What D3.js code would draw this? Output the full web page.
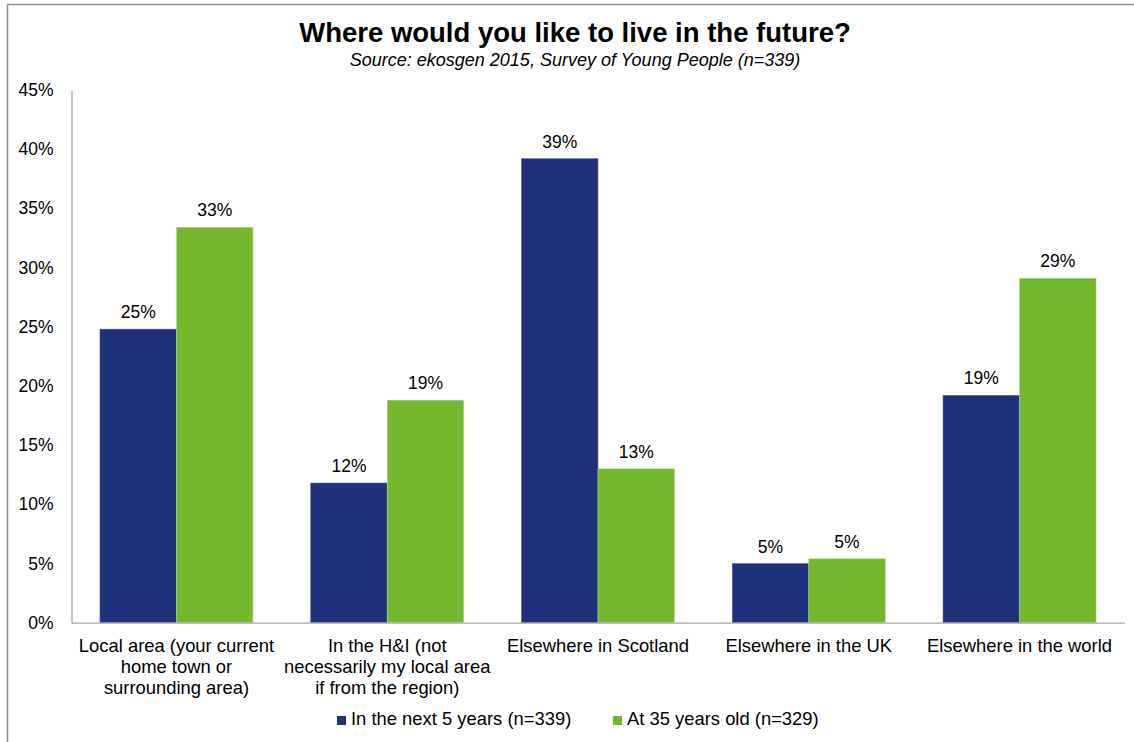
<!DOCTYPE html>
<html>
<head>
<meta charset="utf-8">
<script src="https://cdn.jsdelivr.net/npm/d3@7"></script>
<style>
  html, body { margin: 0; padding: 0; background: #fff; }
  svg { display: block; font-family: "Liberation Sans", Arial, sans-serif; }
</style>
</head>
<body>
<svg id="chart" width="1134" height="742"></svg>
<script>
// Survey responses: share of young people choosing each location
const categories = [
  ["Local area (your current", "home town or", "surrounding area)"],
  ["In the H&I (not", "necessarily my local area", "if from the region)"],
  ["Elsewhere in Scotland"],
  ["Elsewhere in the UK"],
  ["Elsewhere in the world"]
];
const seriesNames = ["In the next 5 years (n=339)", "At 35 years old (n=329)"];
const next5Years = [0.248, 0.118, 0.392, 0.050, 0.192];
const at35 = [0.334, 0.188, 0.130, 0.054, 0.291];
const yTicks = [0, 0.05, 0.10, 0.15, 0.20, 0.25, 0.30, 0.35, 0.40, 0.45];
const colors = ["#1F317A", "#74B82E"];

const svg = d3.select("#chart");
const plotLeft = 71.5, plotRight = 1124.5, plotTop = 90, plotBottom = 622.7;

const catKeys = categories.map((c, i) => i);
const x = d3.scaleBand().domain(catKeys).range([plotLeft, plotRight])
  .paddingInner(0.274).paddingOuter(0.135);
const xs = d3.scaleBand().domain([0, 1]).range([0, x.bandwidth()]);
const y = d3.scaleLinear().domain([0, 0.45]).range([plotBottom, plotTop]);
const pct = d3.format(".0%");

// Frame lines (top and left edges)
svg.append("line").attr("x1", 7.5).attr("x2", 1134).attr("y1", 4.5).attr("y2", 4.5)
  .attr("stroke", "#8c8c8c").attr("stroke-width", 1.5);
svg.append("line").attr("x1", 7.5).attr("x2", 7.5).attr("y1", 4.5).attr("y2", 742)
  .attr("stroke", "#8c8c8c").attr("stroke-width", 1.5);

// Title and source line
svg.append("text").attr("x", 575).attr("y", 42).attr("text-anchor", "middle")
  .attr("font-size", 27.5).attr("font-weight", "bold").attr("fill", "#000")
  .text("Where would you like to live in the future?");
svg.append("text").attr("x", 575).attr("y", 66).attr("text-anchor", "middle")
  .attr("font-size", 18).attr("font-style", "italic").attr("fill", "#000")
  .text("Source: ekosgen 2015, Survey of Young People (n=339)");

// Y axis
const yAxis = d3.axisLeft(y).tickValues(yTicks).tickFormat(pct).tickSize(0).tickPadding(18);
const gy = svg.append("g").attr("transform", `translate(${plotLeft},0)`).call(yAxis);
gy.select(".domain").attr("stroke", "#a6a6a6").attr("stroke-width", 1.3);
gy.selectAll("text").attr("font-size", 17.5).attr("fill", "#000")
  .attr("font-family", "'Liberation Sans', Arial, sans-serif");

// Bars
const series = [next5Years, at35];
series.forEach((vals, s) => {
  const g = svg.append("g");
  g.selectAll("rect").data(vals).join("rect")
    .attr("x", (d, i) => x(i) + xs(s))
    .attr("y", d => y(d))
    .attr("width", xs.bandwidth())
    .attr("height", d => y(0) - y(d))
    .attr("fill", colors[s])
    .attr("stroke", s === 0 ? "#5a68a3" : "#b7dc92")
    .attr("stroke-width", 0.6);
  g.selectAll("text").data(vals).join("text")
    .attr("x", (d, i) => x(i) + xs(s) + xs.bandwidth() / 2)
    .attr("y", d => y(d) - 11)
    .attr("text-anchor", "middle")
    .attr("font-size", 17.5).attr("fill", "#000")
    .text(d => pct(d));
});

// X axis baseline and category labels
const xAxis = d3.axisBottom(x).tickSize(0).tickFormat("");
const gx = svg.append("g").attr("transform", `translate(0,${plotBottom})`).call(xAxis);
gx.select(".domain").attr("stroke", "#a6a6a6").attr("stroke-width", 1.3);
const catLabels = svg.append("g");
categories.forEach((lines, i) => {
  const t = catLabels.append("text")
    .attr("x", x(i) + x.bandwidth() / 2)
    .attr("y", 651.5)
    .attr("text-anchor", "middle")
    .attr("font-size", 18.4).attr("fill", "#000");
  lines.forEach((ln, k) => {
    t.append("tspan").attr("x", x(i) + x.bandwidth() / 2)
      .attr("dy", k === 0 ? 0 : 21.3).text(ln);
  });
});

// Legend
const legendX = [337, 613];
seriesNames.forEach((name, s) => {
  svg.append("rect").attr("x", legendX[s]).attr("y", 716)
    .attr("width", 9).attr("height", 9).attr("fill", colors[s]);
  svg.append("text").attr("x", legendX[s] + 14).attr("y", 725)
    .attr("font-size", 18.4).attr("fill", "#000").text(name);
});
</script>
</body>
</html>
